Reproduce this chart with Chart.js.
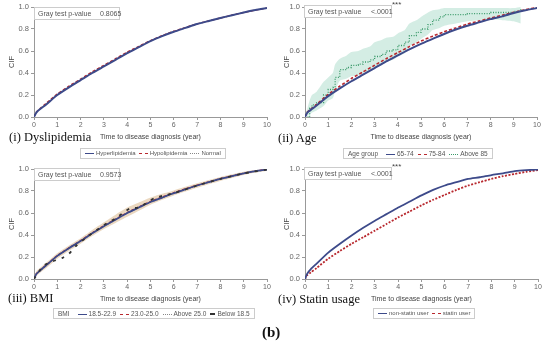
<!DOCTYPE html>
<html>
<head>
<meta charset="utf-8">
<script src="https://cdn.jsdelivr.net/npm/chart.js@4.4.1/dist/chart.umd.min.js"></script>
<style>
  body { margin: 0; background: #fff; }
  #wrap { position: relative; width: 550px; height: 347px; overflow: hidden; font-family: "Liberation Sans", Arial, sans-serif; }
  canvas { position: absolute; }
  .lbl { position: absolute; font-family: "Liberation Serif", "DejaVu Serif", serif; font-size: 12.5px; color: #111; white-space: nowrap; }
  .pbox { position: absolute; border: 1px solid #ccc; background: #fff; font-size: 7px; color: #555; height: 11px; line-height: 11px; white-space: nowrap; }
  .pbox span { position: absolute; }
  .stars { position: absolute; font-size: 8px; color: #444; }
  .legend { position: absolute; border: 1px solid #ccc; font-size: 6.5px; color: #555; height: 9px; line-height: 9px; white-space: nowrap; padding: 0 4px; display: flex; align-items: center; gap: 4px; }
  .legend i { display: inline-block; width: 9px; height: 0; margin-right: 2px; vertical-align: middle; }
</style>
</head>
<body>
<div id="wrap">
  <canvas id="c1" width="275" height="145" style="left:0;top:0"></canvas>
  <canvas id="c2" width="275" height="145" style="left:275px;top:0"></canvas>
  <canvas id="c3" width="275" height="145" style="left:0;top:162px"></canvas>
  <canvas id="c4" width="275" height="145" style="left:275px;top:162px"></canvas>

  <div class="pbox" style="left:34px;top:7px;width:84px"><span style="left:3px">Gray test p-value</span><span style="left:65px">0.8065</span></div>
  <div class="pbox" style="left:304px;top:5px;width:86px"><span style="left:3px">Gray test p-value</span><span style="left:66px">&lt;.0001</span></div>
  <div class="stars" style="left:392px;top:0px">***</div>
  <div class="pbox" style="left:34px;top:168px;width:84px"><span style="left:3px">Gray test p-value</span><span style="left:65px">0.9573</span></div>
  <div class="pbox" style="left:304px;top:167px;width:86px"><span style="left:3px">Gray test p-value</span><span style="left:66px">&lt;.0001</span></div>
  <div class="stars" style="left:392px;top:162px">***</div>

  <div class="lbl" style="left:9px;top:130px">(i) Dyslipidemia</div>
  <div class="lbl" style="left:278px;top:131px">(ii) Age</div>
  <div class="lbl" style="left:8px;top:291px">(iii) BMI</div>
  <div class="lbl" style="left:278px;top:292px">(iv) Statin usage</div>
  <div class="lbl" style="left:262px;top:324px;font-weight:bold;font-size:15px">(b)</div>

  <div class="legend" style="left:80px;top:148px;font-size:6px;gap:3px">
    <span><i style="border-top:1.5px solid #3d4a8a"></i>Hyperlipidemia</span>
    <span><i style="border-top:1.5px dashed #b8282e"></i>Hypolipidemia</span>
    <span><i style="border-top:1.5px dotted #888"></i>Normal</span>
  </div>
  <div class="legend" style="left:343px;top:148px">
    <span style="margin-right:4px">Age group</span>
    <span><i style="border-top:1.5px solid #3d4a8a"></i>65-74</span>
    <span><i style="border-top:1.5px dashed #b8282e"></i>75-84</span>
    <span><i style="border-top:1.5px dotted #3a9a6a"></i>Above 85</span>
  </div>
  <div class="legend" style="left:53px;top:308px">
    <span style="margin-right:4px">BMI</span>
    <span><i style="border-top:1.5px solid #3d4a8a"></i>18.5-22.9</span>
    <span><i style="border-top:1.5px dashed #b8282e"></i>23.0-25.0</span>
    <span><i style="border-top:1.5px dotted #888"></i>Above 25.0</span>
    <span><i style="border-top:2px solid #333;width:5px"></i>Below 18.5</span>
  </div>
  <div class="legend" style="left:373px;top:308px;font-size:6px;gap:3px">
    <span><i style="border-top:1.5px solid #3d4a8a"></i>non-statin user</span>
    <span><i style="border-top:1.5px dashed #b8282e"></i>statin user</span>
  </div>
</div>

<script>
// time points (years) shared by the smooth curves
const TIME = [0, 0.1, 0.25, 0.5, 1, 1.5, 2, 2.5, 3, 3.5, 4, 4.5, 5, 5.5, 6, 6.5, 7, 7.5, 8, 8.5, 9, 9.5, 10];
const Y_TICKS = [0, 0.1, 0.2, 0.3, 0.4, 0.5, 0.6, 0.7, 0.8, 0.9, 1.0];
const X_TICKS = [0, 1, 2, 3, 4, 5, 6, 7, 8, 9, 10];

// (i) Dyslipidemia
const hyperlipidemia = [0, 0.04, 0.07, 0.11, 0.2, 0.27, 0.335, 0.4, 0.46, 0.52, 0.58, 0.635, 0.69, 0.735, 0.775, 0.81, 0.845, 0.873, 0.9, 0.925, 0.95, 0.972, 0.99];
const hypolipidemia = [0, 0.045, 0.075, 0.12, 0.21, 0.28, 0.345, 0.41, 0.47, 0.53, 0.59, 0.642, 0.695, 0.74, 0.78, 0.813, 0.847, 0.873, 0.9, 0.926, 0.95, 0.972, 0.99];
const normalLipid = [0, 0.042, 0.072, 0.115, 0.205, 0.275, 0.34, 0.405, 0.465, 0.525, 0.585, 0.638, 0.692, 0.737, 0.777, 0.811, 0.846, 0.873, 0.9, 0.925, 0.95, 0.972, 0.99];

// (ii) Age
const age6574 = [0, 0.04, 0.065, 0.105, 0.19, 0.26, 0.325, 0.385, 0.445, 0.505, 0.56, 0.615, 0.665, 0.71, 0.755, 0.795, 0.83, 0.86, 0.89, 0.915, 0.945, 0.97, 0.99];
const age7584 = [0, 0.045, 0.072, 0.115, 0.205, 0.28, 0.35, 0.41, 0.47, 0.53, 0.585, 0.64, 0.69, 0.735, 0.775, 0.81, 0.845, 0.872, 0.9, 0.925, 0.952, 0.975, 0.995];
const AGE85_TIME = [0, 0.2, 0.3, 0.5, 0.8, 1, 1.2, 1.3, 1.5, 1.8, 2, 2.3, 2.5, 2.8, 3, 3.3, 3.5, 3.8, 4, 4.3, 4.5, 4.8, 5, 5.3, 5.5, 5.8, 6, 6.5, 7, 7.5, 8, 8.5, 9, 9.3];
const age85 = [0, 0.08, 0.11, 0.13, 0.2, 0.25, 0.27, 0.36, 0.43, 0.45, 0.47, 0.48, 0.5, 0.52, 0.55, 0.57, 0.6, 0.61, 0.65, 0.68, 0.74, 0.77, 0.8, 0.84, 0.88, 0.91, 0.93, 0.93, 0.94, 0.94, 0.95, 0.95, 0.96, 0.99];
const age85Upper = [0, 0.15, 0.2, 0.23, 0.32, 0.36, 0.4, 0.48, 0.53, 0.56, 0.59, 0.6, 0.62, 0.64, 0.68, 0.7, 0.72, 0.73, 0.76, 0.79, 0.85, 0.88, 0.91, 0.95, 0.97, 0.98, 0.99, 0.99, 0.99, 0.99, 0.99, 0.99, 0.99, 1.0];
const age85Lower = [0, 0.02, 0.04, 0.06, 0.1, 0.15, 0.17, 0.24, 0.33, 0.35, 0.37, 0.38, 0.4, 0.42, 0.45, 0.47, 0.5, 0.52, 0.55, 0.58, 0.64, 0.68, 0.71, 0.75, 0.79, 0.81, 0.83, 0.85, 0.87, 0.88, 0.89, 0.88, 0.87, 0.85];

// (iii) BMI
const bmiNormal = [0, 0.045, 0.075, 0.12, 0.21, 0.28, 0.345, 0.415, 0.48, 0.54, 0.6, 0.65, 0.7, 0.74, 0.78, 0.815, 0.85, 0.88, 0.91, 0.935, 0.96, 0.98, 0.995];
const bmiOver = [0, 0.048, 0.078, 0.123, 0.213, 0.283, 0.35, 0.42, 0.485, 0.545, 0.605, 0.655, 0.705, 0.745, 0.785, 0.82, 0.853, 0.883, 0.912, 0.937, 0.962, 0.982, 0.997];
const bmiObese = [0, 0.043, 0.073, 0.118, 0.208, 0.278, 0.343, 0.413, 0.478, 0.538, 0.598, 0.648, 0.698, 0.738, 0.778, 0.813, 0.848, 0.878, 0.908, 0.933, 0.958, 0.978, 0.993];
const UNDER_TIME = [0, 0.4, 0.8, 1.2, 1.5, 1.8, 2.2, 3, 3.5, 4.1, 4.5, 5.2, 5.5, 6, 7, 8, 9, 10];
const bmiUnder = [0, 0.12, 0.16, 0.19, 0.23, 0.3, 0.37, 0.49, 0.55, 0.64, 0.65, 0.74, 0.755, 0.78, 0.85, 0.91, 0.96, 0.995];
const bmiUpper = [0, 0.07, 0.1, 0.145, 0.235, 0.305, 0.37, 0.445, 0.515, 0.585, 0.65, 0.695, 0.74, 0.775, 0.805, 0.838, 0.87, 0.9, 0.928, 0.952, 0.975, 0.99, 1.0];
const bmiLower = [0, 0.025, 0.055, 0.095, 0.185, 0.255, 0.32, 0.39, 0.455, 0.51, 0.565, 0.62, 0.675, 0.72, 0.76, 0.795, 0.83, 0.862, 0.892, 0.918, 0.945, 0.968, 0.985];

// (iv) Statin usage
const nonStatin = [0, 0.05, 0.09, 0.14, 0.24, 0.32, 0.395, 0.465, 0.53, 0.59, 0.65, 0.705, 0.76, 0.81, 0.85, 0.88, 0.91, 0.925, 0.945, 0.96, 0.98, 0.99, 0.995];
const statin = [0, 0.035, 0.06, 0.1, 0.185, 0.255, 0.32, 0.38, 0.44, 0.5, 0.56, 0.615, 0.67, 0.72, 0.765, 0.81, 0.85, 0.88, 0.91, 0.935, 0.955, 0.975, 0.99];

const BLUE = "#3d4a8a";
const RED = "#b8282e";
const GREEN = "#3a9a6a";
const GRAY = "#888";

function xy(ts, vs) {
  return ts.map(function (t, i) {
    return { x: t, y: vs[i] };
  });
}

function line(ts, vs, color, dash, width) {
  return {
    data: xy(ts, vs),
    borderColor: color,
    borderWidth: width || 1.6,
    borderDash: dash || [],
    pointRadius: 0,
    fill: false,
    tension: 0.2,
  };
}

function band(ts, up, lo, color) {
  return [
    { data: xy(ts, up), borderWidth: 0, pointRadius: 0, backgroundColor: color, fill: "+1", tension: 0.2 },
    { data: xy(ts, lo), borderWidth: 0, pointRadius: 0, fill: false, tension: 0.2 },
  ];
}

function makePanel(id, yWidth, padRight, datasets) {
  const ctx = document.getElementById(id).getContext("2d");
  return new Chart(ctx, {
    type: "line",
    data: { datasets: datasets },
    options: {
      responsive: false,
      animation: false,
      layout: { padding: { top: 7, right: padRight, left: 0, bottom: 0 } },
      plugins: { legend: { display: false }, tooltip: { enabled: false } },
      scales: {
        x: {
          type: "linear",
          min: 0,
          max: 10,
          afterBuildTicks: function (s) {
            s.ticks = X_TICKS.map(function (v) { return { value: v }; });
          },
          afterFit: function (s) { s.height = 28; },
          grid: { drawOnChartArea: false, color: "#999", tickLength: 3 },
          border: { color: "#999" },
          ticks: { color: "#666", font: { size: 7, family: "Liberation Sans" }, padding: 1, maxRotation: 0 },
          title: {
            display: true,
            text: "Time to disease diagnosis (year)",
            color: "#444",
            font: { size: 7, family: "Liberation Sans" },
            padding: { top: 0, bottom: 4 },
          },
        },
        y: {
          min: 0,
          max: 1,
          afterBuildTicks: function (s) {
            s.ticks = Y_TICKS.map(function (v) { return { value: v }; });
          },
          afterFit: function (s) { s.width = yWidth; },
          grid: { drawOnChartArea: false, color: "#999", tickLength: 3 },
          border: { color: "#999" },
          ticks: {
            color: "#666",
            font: { size: 7.5, family: "Liberation Sans" },
            padding: 2,
            callback: function (v) { return v.toFixed(1); },
          },
          title: {
            display: true,
            text: "CIF",
            color: "#444",
            font: { size: 7.5, family: "Liberation Sans" },
            padding: { top: 7, bottom: 0 },
          },
        },
      },
    },
  });
}

makePanel("c1", 34, 8, [
  line(TIME, hyperlipidemia, BLUE, [], 2),
  line(TIME, hypolipidemia, RED, [3, 2], 1.4),
  line(TIME, normalLipid, GRAY, [1, 1.5], 1.2),
]);

const age85Line = line(AGE85_TIME, age85, GREEN, [1, 1.5], 1.3);
age85Line.stepped = "before";
age85Line.tension = 0;
makePanel("c2", 30, 13, [
  line(TIME, age6574, BLUE, [], 2),
  line(TIME, age7584, RED, [3, 2], 1.6),
  age85Line,
].concat(band(AGE85_TIME, age85Upper, age85Lower, "rgba(160,215,195,0.45)")));

makePanel("c3", 34, 8, [
  line(UNDER_TIME, bmiUnder, "#333", [3, 6], 1.8),
  line(TIME, bmiNormal, BLUE, [], 1.8),
  line(TIME, bmiOver, RED, [3, 2], 1.3),
  line(TIME, bmiObese, GRAY, [1, 1.5], 1.2),
].concat(band(TIME, bmiUpper, bmiLower, "rgba(222,190,150,0.6)")));

makePanel("c4", 30, 12, [
  line(TIME, nonStatin, BLUE, [], 1.8),
  line(TIME, statin, RED, [2, 1.5], 1.8),
]);
</script>
</body>
</html>
